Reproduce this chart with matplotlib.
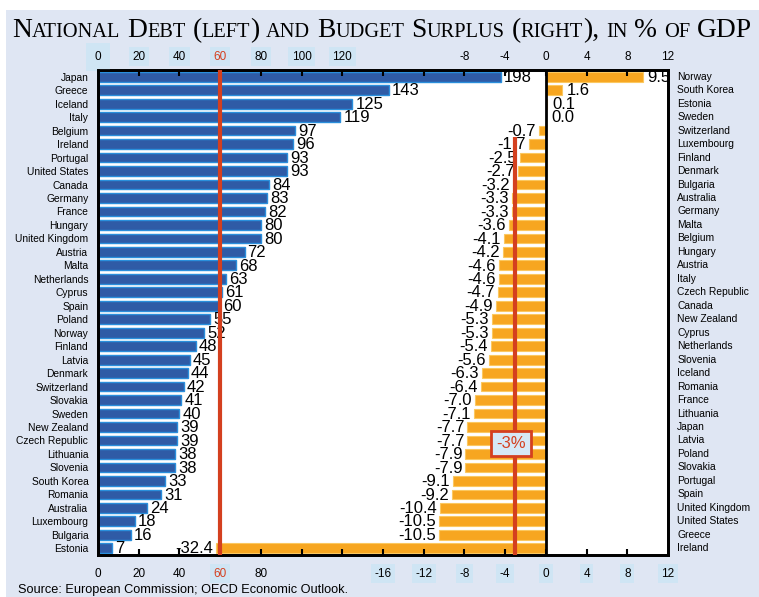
import numpy as np
import matplotlib
matplotlib.use("Agg")
import matplotlib.pyplot as plt
from matplotlib.patches import Rectangle
from matplotlib.transforms import IdentityTransform, blended_transform_factory

plt.rcParams["font.family"] = ["Liberation Sans", "DejaVu Sans"]

### data ###

debt_countries = ["Japan", "Greece", "Iceland", "Italy", "Belgium", "Ireland", "Portugal",
                  "United States", "Canada", "Germany", "France", "Hungary", "United Kingdom",
                  "Austria", "Malta", "Netherlands", "Cyprus", "Spain", "Poland", "Norway",
                  "Finland", "Latvia", "Denmark", "Switzerland", "Slovakia", "Sweden",
                  "New Zealand", "Czech Republic", "Lithuania", "Slovenia", "South Korea",
                  "Romania", "Australia", "Luxembourg", "Bulgaria", "Estonia"]
debt = [198, 143, 125, 119, 97, 96, 93, 93, 84, 83, 82, 80, 80, 72, 68, 63, 61, 60, 55, 52,
        48, 45, 44, 42, 41, 40, 39, 39, 38, 38, 33, 31, 24, 18, 16, 7]

surplus_countries = ["Norway", "South Korea", "Estonia", "Sweden", "Switzerland", "Luxembourg",
                     "Finland", "Denmark", "Bulgaria", "Australia", "Germany", "Malta",
                     "Belgium", "Hungary", "Austria", "Italy", "Czech Republic", "Canada",
                     "New Zealand", "Cyprus", "Netherlands", "Slovenia", "Iceland", "Romania",
                     "France", "Lithuania", "Japan", "Latvia", "Poland", "Slovakia", "Portugal",
                     "Spain", "United Kingdom", "United States", "Greece", "Ireland"]
surplus = [9.5, 1.6, 0.1, 0.0, -0.7, -1.7, -2.5, -2.7, -3.2, -3.3, -3.3, -3.6, -4.1, -4.2,
           -4.6, -4.6, -4.7, -4.9, -5.3, -5.3, -5.4, -5.6, -6.3, -6.4, -7.0, -7.1, -7.7, -7.7,
           -7.9, -7.9, -9.1, -9.2, -10.4, -10.5, -10.5, -32.4]

debt_top_ticks = [0, 20, 40, 60, 80, 100, 120]
debt_bottom_ticks = [0, 20, 40, 60, 80]
surplus_top_ticks = [-8, -4, 0, 4, 8, 12]
surplus_bottom_ticks = [-16, -12, -8, -4, 0, 4, 8, 12]

title = "National Debt (left) and Budget Surplus (right), in % of GDP"
source = "Source: European Commission; OECD Economic Outlook."

BG = "#dfe6f3"
PATCH = "#cfe5f4"
BLUE = "#2f5ba6"
BLUE_EDGE = "#2a8fdc"
ORANGE = "#f7a620"
ORANGE_EDGE = "#fbc860"
RED = "#d4401f"

W, H = 759, 597
fig = plt.figure(figsize=(W / 100, H / 100), dpi=100)
fig.patch.set_facecolor("white")
fig.patches.append(Rectangle((6 / W, 0), 1 - 6 / W, 1 - 10 / H, transform=fig.transFigure,
                             fc=BG, ec="none", zorder=-10))

ax = fig.add_axes([98 / W, 42 / H, 570 / W, 485 / H])
ax.set_facecolor("white")
ax.set_xlim(0, 280)
ax.set_ylim(35.5, -0.5)
ax2 = ax.twiny()
ax2.set_xlim(-44, 12)

y = np.arange(len(debt))

# debt bars (left scale)
ax.barh(y, debt, height=0.72, color=BLUE, edgecolor=BLUE_EDGE, linewidth=1)
for i, d in enumerate(debt):
    ax.text(d + 1.5, i + 0.05, str(d), ha="left", va="center", fontsize=12)

# surplus bars (right scale)
ax2.barh(y, surplus, height=0.72, color=ORANGE, edgecolor=ORANGE_EDGE, linewidth=0.8)
for i, s in enumerate(surplus):
    if s < 0:
        ax2.text(s - 0.3, i + 0.05, "{:.1f}".format(s), ha="right", va="center", fontsize=12)
    else:
        ax2.text(s + 0.5, i + 0.05, "{:.1f}".format(s), ha="left", va="center", fontsize=12)

# reference lines
ax2.axvline(0, color="k", lw=2, zorder=3)
ax2.plot([60, 60], [0, 1], color=RED, lw=3, transform=ax.get_xaxis_transform(), zorder=4)
ax2.vlines(-3, 4.5, 35.5, color=RED, lw=3, zorder=4)
ax2.text(-3.4, 27.2, "-3%", ha="center", va="center", fontsize=12, color=RED, zorder=5,
         bbox=dict(boxstyle="square,pad=0.3", fc="#d6e9f6", ec=RED, lw=2))

# axes styling
ax.set_yticks(y)
ax.set_yticklabels(debt_countries, fontsize=7.4)
ax.tick_params(axis="y", length=0, pad=7)
ax.tick_params(axis="x", bottom=False, top=False, labelbottom=False, labeltop=False)
ax2.set_xticks(np.arange(-40, 12, 4))
ax2.tick_params(axis="x", direction="in", top=True, bottom=True, labeltop=False,
                labelbottom=False, length=4, width=1.5)
for a in (ax, ax2):
    for sp in a.spines.values():
        sp.set_linewidth(2)

# right side country labels
right_tr = blended_transform_factory(ax2.transAxes, ax2.transData)
for i, name in enumerate(surplus_countries):
    ax2.text(1.016, i, name, transform=right_tr, ha="left", va="center", fontsize=7.4)

# tick labels with their pale patches
for t in debt_top_ticks:
    pad = 0.7 if t == 0 else 0.3
    ax.text(t, 1.027, str(t), transform=ax.get_xaxis_transform(), ha="center", va="center",
            fontsize=8.5, color=RED if t == 60 else "k",
            bbox=dict(boxstyle="square,pad=%s" % pad, fc=PATCH, ec="none"))
for t in surplus_top_ticks:
    ax2.text(t, 1.027, str(t), transform=ax2.get_xaxis_transform(), ha="center", va="center",
             fontsize=8.5)
for t in debt_bottom_ticks:
    ax.text(t, -0.039, str(t), transform=ax.get_xaxis_transform(), ha="center", va="center",
            fontsize=8.5, color=RED if t == 60 else "k",
            bbox=dict(boxstyle="square,pad=0.3", fc=PATCH, ec="none") if t == 60 else None)
for t in surplus_bottom_ticks:
    ax2.text(t, -0.039, str(t), transform=ax2.get_xaxis_transform(), ha="center", va="center",
             fontsize=8.5, bbox=dict(boxstyle="square,pad=0.3", fc=PATCH, ec="none"))

fig.text(18 / W, 1 - 590 / H, source, ha="left", va="center", fontsize=9.2)


# small caps title, drawn run by run
def draw_small_caps(text, x0, base, big, small, draw=True):
    renderer = fig.canvas.get_renderer()
    runs = []
    for ch in text:
        kind = "sp" if ch == " " else ("lo" if ch.islower() else "up")
        if runs and runs[-1][0] == kind and kind != "sp":
            runs[-1][1] += ch
        else:
            runs.append([kind, ch])
    x = x0
    for kind, s in runs:
        if kind == "sp":
            x += 0.25 * big * 100 / 72
            continue
        size = small if kind == "lo" else big
        t = fig.text(x, base, s.upper(), transform=IdentityTransform(), fontsize=size,
                     family="Liberation Serif", ha="left", va="baseline")
        x += t.get_window_extent(renderer).width
        if not draw:
            t.remove()
    return x - x0


big, small = 17.5, 13.0
width = draw_small_caps(title, 12, H - 37, big, small, draw=False)
scale = 740 / width
draw_small_caps(title, 12, H - 37, big * scale, small * scale)

fig.savefig("out.png", dpi=100)
